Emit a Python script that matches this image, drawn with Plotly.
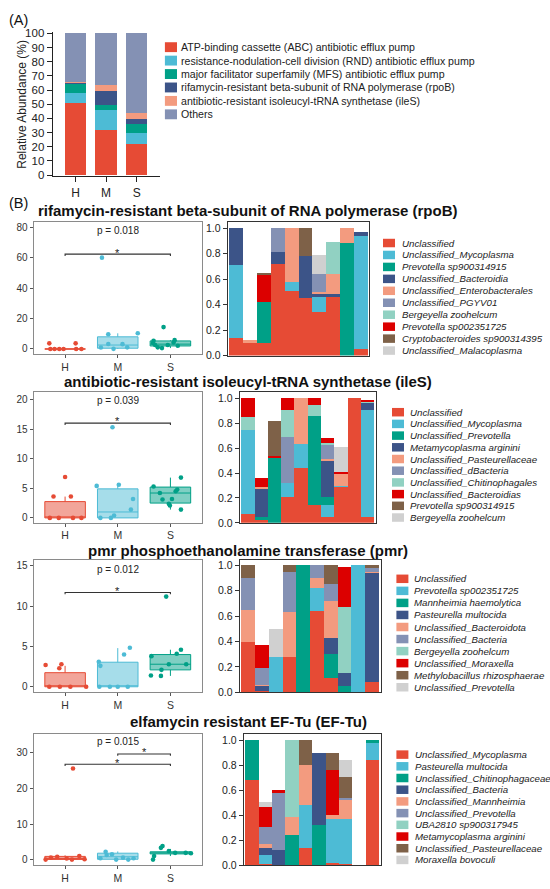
import plotly.graph_objects as go

W, H = 550, 889
FONT = "Liberation Sans, Arial, Helvetica, sans-serif"

# ---------------- data ----------------
groups = ["H", "M", "S"]
group_colors = ["#E64B35", "#4DBBD5", "#00A087"]
group_fills = ["rgba(230,75,53,0.5)", "rgba(77,187,213,0.5)", "rgba(0,160,135,0.5)"]
npg = ["#E64B35", "#4DBBD5", "#00A087", "#3C5488", "#F39B7F",
       "#8491B4", "#91D1C2", "#DC0000", "#7E6148", "#D0D0D0"]

# Panel A
arg_types = ["ATP-binding cassette (ABC) antibiotic efflux pump",
             "resistance-nodulation-cell division (RND) antibiotic efflux pump",
             "major facilitator superfamily (MFS) antibiotic efflux pump",
             "rifamycin-resistant beta-subunit of RNA polymerase (rpoB)",
             "antibiotic-resistant isoleucyl-tRNA synthetase (ileS)",
             "Others"]
arg_colors = ["#E64B35", "#4DBBD5", "#00A087", "#3C5488", "#F39B7F", "#8491B4"]
abund_H = [51.0, 6.8, 6.5, 0.7, 0.9, 34.1]
abund_M = [31.8, 14.4, 3.0, 10.2, 4.4, 36.2]
abund_S = [22.0, 7.5, 6.5, 3.9, 4.2, 55.9]
ticks_A = list(range(0, 101, 10))

samples = list(range(10))
bar_ticks = [0.0, 0.2, 0.4, 0.6, 0.8, 1.0]

# ---- rpoB ----
rpoB_title = "rifamycin-resistant beta-subunit of RNA polymerase (rpoB)"
rpoB_species = ["Unclassified", "Unclassified_Mycoplasma", "Prevotella sp900314915",
                "Unclassified_Bacteroidia", "Unclassified_Enterobacterales", "Unclassified_PGYV01",
                "Bergeyella zoohelcum", "Prevotella sp002351725", "Cryptobacteroides sp900314395",
                "Unclassified_Malacoplasma"]
rpoB_comp = [
    [.14, .11, .10, .72, .51, .45, .34, .47, 0, .05],
    [.57, 0, 0, 0, .07, 0, .12, 0, 0, .89],
    [0, 0, .32, 0, 0, 0, 0, 0, .88, 0],
    [.29, 0, 0, .09, 0, .33, .02, .01, 0, .03],
    [0, .01, 0, 0, .42, 0, .02, .16, .12, 0],
    [0, 0, 0, .19, 0, 0, .14, 0, 0, 0],
    [0, 0, 0, 0, 0, 0, 0, .25, 0, 0],
    [0, 0, .22, 0, 0, 0, 0, 0, 0, 0],
    [0, 0, .01, 0, 0, .22, 0, 0, 0, 0],
    [0, 0, 0, 0, 0, 0, .15, 0, 0, 0],
]
rpoB_q1 = [0, 0.5, 2.0]
rpoB_med = [0, 2.6, 3.2]
rpoB_q3 = [0, 8.0, 5.3]
rpoB_lo = [0, 0, 0.6]
rpoB_hi = [0, 10.3, 5.8]
rpoB_pts = [[3.7, 3.7, 0, 0, 0, 0, 0, 0],
            [60, 10.3, 9.7, 3.3, 3.2, 1.1, 1.0, 0.1],
            [14.4, 5.8, 5.4, 4.3, 3.9, 2.6, 2.6, 2.1, 1.1, 0.6]]
rpoB_jit = [[-0.30, 0.20, -0.28, -0.20, -0.11, -0.03, 0.21, 0.31],
            [-0.30, 0.38, -0.18, -0.18, 0.09, 0.18, -0.32, -0.08],
            [-0.13, 0.08, -0.32, 0.06, -0.33, -0.05, -0.29, 0.14, -0.24, -0.16]]
rpoB_sig = [[0, 2, 62.3, 65.3]]
rpoB_p = ["p = 0.018", 77.9]
rpoB_yticks = [0, 20, 40, 60, 80]

# ---- ileS ----
ileS_title = "antibiotic-resistant isoleucyl-tRNA synthetase (ileS)"
ileS_species = ["Unclassified", "Unclassified_Mycoplasma", "Unclassified_Prevotella",
                "Metamycoplasma arginini", "Unclassified_Pasteurellaceae", "Unclassified_dBacteria",
                "Unclassified_Chitinophagales", "Unclassified_Bacteroidias", "Prevotella sp900314915",
                "Bergeyella zoohelcum"]
ileS_comp = [
    [.07, .02, 0, .21, .44, .14, .05, .29, 1.0, .05],
    [.68, 0, 0, .11, .19, 0, .09, .01, 0, .86],
    [0, .03, .53, 0, 0, .72, .07, 0, 0, 0],
    [0, .23, 0, 0, 0, 0, .29, 0, 0, .05],
    [0, .01, 0, 0, .37, 0, .01, .10, 0, 0],
    [0, 0, 0, .37, 0, 0, .12, 0, 0, 0],
    [.10, 0, 0, .22, 0, .09, .01, 0, 0, .02],
    [.15, .07, .01, .09, 0, .05, .04, .01, 0, .01],
    [0, 0, .28, 0, 0, 0, 0, 0, 0, 0],
    [0, 0, 0, 0, 0, 0, 0, .20, 0, 0],
]
ileS_q1 = [0, 0, 2.5]
ileS_med = [0, 1.0, 4.2]
ileS_q3 = [2.75, 4.9, 5.2]
ileS_lo = [0, 0, 1.4]
ileS_hi = [3.6, 5.6, 6.8]
ileS_pts = [[6.9, 3.6, 3.6, 0, 0, 0, 0],
            [15.3, 5.4, 5.6, 3.2, 1.4, 0, 0, 0.4],
            [5.3, 6.8, 4.8, 3.1, 3.2, 2.4, 2.1, 1.4, 4.2, 4.5]]
ileS_jit = [[0.0, -0.22, 0.11, -0.29, -0.12, 0.15, 0.31],
            [-0.10, -0.40, 0.02, 0.29, 0.25, -0.33, -0.13, -0.07],
            [-0.32, 0.20, 0.13, -0.15, 0.03, -0.03, -0.01, 0.20, -0.20, 0.10]]
ileS_sig = [[0, 2, 16.0, 16.9]]
ileS_p = ["p = 0.039", 19.9]
ileS_yticks = [0, 5, 10, 15, 20]

# ---- pmr ----
pmr_title = "pmr phosphoethanolamine transferase (pmr)"
pmr_species = ["Unclassified", "Prevotella sp002351725", "Mannheimia haemolytica",
               "Pasteurella multocida", "Unclassified_Bacteroidota", "Unclassified_Bacteria",
               "Bergeyella zoohelcum", "Unclassified_Moraxella", "Methylobacillus rhizosphaerae",
               "Unclassified_Prevotella"]
pmr_comp = [
    [.40, .01, 0, .28, 0, .64, .11, 0, 0, .08],
    [0, 0, .28, 0, 0, .18, 0, 0, 1.0, 0],
    [0, 0, 0, 0, 1.0, 0, .19, .05, 0, 0],
    [0, .04, 0, 0, 0, 0, .13, .10, 0, .86],
    [.25, .01, 0, .35, 0, .08, .29, 0, 0, .01],
    [.25, .13, 0, .32, 0, .10, .13, 0, 0, .03],
    [0, 0, 0, 0, 0, 0, 0, .52, 0, 0],
    [0, .18, 0, 0, 0, 0, 0, .32, 0, 0],
    [.10, 0, 0, .05, 0, 0, .15, 0, 0, .02],
    [0, 0, .22, 0, 0, 0, 0, 0, 0, 0],
]
pmr_q1 = [0, 0, 2.1]
pmr_med = [0, 0, 2.8]
pmr_q3 = [1.75, 3.05, 4.0]
pmr_lo = [0, 0, 1.35]
pmr_hi = [2.6, 4.8, 4.6]
pmr_pts = [[2.7, 2.3, 2.8, 0, 0, 0, 0],
           [3.1, 2.6, 4.0, 4.85, 0, 0, 0, 0],
           [11.2, 1.4, 1.35, 2.1, 3.8, 2.8, 4.1, 4.6, 2.8]]
pmr_jit = [[-0.37, -0.11, -0.07, -0.30, -0.10, 0.10, 0.40],
           [-0.36, -0.33, 0.12, 0.23, -0.35, -0.15, 0.0, 0.19],
           [-0.08, -0.37, -0.18, -0.17, -0.36, -0.03, 0.12, 0.20, 0.30]]
pmr_sig = [[0, 2, 11.7, 12.3]]
pmr_p = ["p = 0.012", 14.55]
pmr_yticks = [0, 5, 10, 15]

# ---- EF-Tu ----
eftu_title = "elfamycin resistant EF-Tu (EF-Tu)"
eftu_species = ["Unclassified_Mycoplasma", "Pasteurella multocida", "Unclassified_Chitinophagaceae",
                "Unclassified_Bacteria", "Unclassified_Mannheimia", "Unclassified_Prevotella",
                "UBA2810 sp900317945", "Metamycoplasma arginini", "Unclassified_Pasteurellaceae",
                "Moraxella bovoculi"]
eftu_comp = [
    [.68, .01, 0, 0, .14, 0, .02, .01, 0, .84],
    [0, .07, 0, 0, .34, 0, .35, .36, 0, .14],
    [.32, 0, 0, .24, 0, .32, 0, 0, 0, .02],
    [0, .06, .12, 0, 0, .58, 0, 0, 0, 0],
    [0, .03, 0, .15, .32, 0, .03, .16, 0, 0],
    [0, .14, .46, 0, 0, 0, 0, .01, 0, 0],
    [0, 0, 0, .61, 0, 0, 0, 0, 0, 0],
    [0, .16, .02, 0, 0, 0, .36, 0, 0, 0],
    [0, 0, 0, 0, .20, 0, .14, .17, 0, 0],
    [0, .04, 0, 0, 0, 0, 0, .13, 0, 0],
]
eftu_q1 = [0.05, 0.1, 1.6]
eftu_med = [0.3, 0.8, 1.9]
eftu_q3 = [0.9, 1.8, 2.2]
eftu_lo = [0, 0, 1.0]
eftu_hi = [1.2, 2.3, 3.0]
eftu_pts = [[25.6, 0.55, 0.8, 0.3, 1.0, 0.1, 0, 0],
            [2.2, 1.3, 1.5, 0.4, 0, 0.55, 0.4, 0],
            [0, 3.3, 3.8, 2.4, 1.8, 1.9, 1.0, 1.9]]
eftu_jit = [[0.15, -0.27, -0.15, 0.03, 0.27, 0.37, -0.37, 0.13],
            [-0.23, -0.21, -0.11, -0.33, -0.03, 0.10, 0.30, 0.20],
            [-0.33, -0.18, -0.15, -0.03, 0.39, 0.29, -0.31, 0.09]]
eftu_sig = [[0, 2, 26.8, 28.0], [1, 2, 29.7, 31.1]]
eftu_p = ["p = 0.015", 33.1]
eftu_yticks = [0, 10, 20, 30]

rows = [
    dict(title=rpoB_title, species=rpoB_species, comp=rpoB_comp, q1=rpoB_q1, med=rpoB_med,
         q3=rpoB_q3, lo=rpoB_lo, hi=rpoB_hi, pts=rpoB_pts, jit=rpoB_jit, sig=rpoB_sig,
         p=rpoB_p, yticks=rpoB_yticks),
    dict(title=ileS_title, species=ileS_species, comp=ileS_comp, q1=ileS_q1, med=ileS_med,
         q3=ileS_q3, lo=ileS_lo, hi=ileS_hi, pts=ileS_pts, jit=ileS_jit, sig=ileS_sig,
         p=ileS_p, yticks=ileS_yticks),
    dict(title=pmr_title, species=pmr_species, comp=pmr_comp, q1=pmr_q1, med=pmr_med,
         q3=pmr_q3, lo=pmr_lo, hi=pmr_hi, pts=pmr_pts, jit=pmr_jit, sig=pmr_sig,
         p=pmr_p, yticks=pmr_yticks),
    dict(title=eftu_title, species=eftu_species, comp=eftu_comp, q1=eftu_q1, med=eftu_med,
         q3=eftu_q3, lo=eftu_lo, hi=eftu_hi, pts=eftu_pts, jit=eftu_jit, sig=eftu_sig,
         p=eftu_p, yticks=eftu_yticks),
]

# ---------------- layout geometry (pixels) ----------------
row_geo = [
    dict(title_y=208.3, box=(33.5, 202, 219.3, 353.3), box_range=[-3.24, 83.7],
         bar=(227.7, 369.3, 219.3, 355), bar_range=[0, 1.052], leg=(383, 399.5, 241, 12.1)),
    dict(title_y=381.7, box=(33.5, 202, 391.7, 524), box_range=[-0.78, 21.28],
         bar=(239.6, 376, 391.7, 524.3), bar_range=[0, 1.053], leg=(392, 407.6, 412.3, 11.85)),
    dict(title_y=552, box=(33.5, 202, 562.3, 695.7), box_range=[-0.66, 15.7],
         bar=(239.6, 380.6, 562.3, 696), bar_range=[0, 1.039], leg=(396.4, 412.1, 581, 12.2)),
    dict(title_y=725.7, box=(33.5, 202, 737.7, 871), box_range=[-1.58, 35.44],
         bar=(243.8, 380.6, 737.7, 871), bar_range=[0, 1.055], leg=(396.4, 412.8, 759, 11.85)),
]


def pxx(p):
    return p / W


def pxy(p):
    return 1 - p / H


fig = go.Figure()
layout = dict(width=W, height=H, margin=dict(l=0, r=0, t=0, b=0), autosize=False,
              paper_bgcolor="white", plot_bgcolor="white", showlegend=False,
              barmode="stack", font=dict(family=FONT, color="#222"))
shapes = []
annotations = []

# ---------------- Panel A ----------------
for i, name in enumerate(arg_types):
    fig.add_trace(go.Bar(x=[0, 1, 2], y=[abund_H[i], abund_M[i], abund_S[i]], width=0.7,
                         marker=dict(color=arg_colors[i], line=dict(width=0)),
                         name=name, xaxis="x", yaxis="y"))
layout["xaxis"] = dict(domain=[pxx(52.6), pxx(159.6)], range=[-0.75, 2.75], anchor="y",
                       tickvals=[0, 1, 2], ticktext=groups, showline=True, linecolor="#222",
                       linewidth=1, ticks="outside", ticklen=5, tickcolor="#222",
                       tickfont=dict(size=12, color="#222"), showgrid=False, zeroline=False)
layout["yaxis"] = dict(domain=[pxy(173.45), pxy(27.55)], range=[-0.8, 100.8], anchor="x",
                       tickvals=ticks_A, showline=True, linecolor="#222", linewidth=1,
                       ticks="outside", ticklen=5, tickcolor="#222",
                       tickfont=dict(size=11.5, color="#222"), showgrid=False, zeroline=False)
annotations.append(dict(text="(A)", x=pxx(6.5), y=pxy(15.5), xref="paper", yref="paper",
                        xanchor="left", yanchor="middle", showarrow=False,
                        font=dict(size=14.5, color="#111")))
annotations.append(dict(text="Relative Abundance (%)", x=pxx(22.5), y=pxy(100.5), xref="paper",
                        yref="paper", textangle=-90, xanchor="center", yanchor="middle",
                        showarrow=False, font=dict(size=12, color="#222")))
for i, name in enumerate(arg_types):
    yc = 42.7 + 13.6 * i
    shapes.append(dict(type="rect", xref="paper", yref="paper", x0=pxx(164.9), x1=pxx(177),
                       y0=pxy(yc + 5), y1=pxy(yc - 5), fillcolor=arg_colors[i], line=dict(width=0)))
    annotations.append(dict(text=name, x=pxx(179), y=pxy(yc), xref="paper", yref="paper",
                            xanchor="left", yanchor="middle", showarrow=False,
                            font=dict(size=10.6, color="#222")))

annotations.append(dict(text="(B)", x=pxx(6.5), y=pxy(200), xref="paper", yref="paper",
                        xanchor="left", yanchor="middle", showarrow=False,
                        font=dict(size=14.5, color="#111")))

# ---------------- Panel B rows ----------------
for r, (row, geo) in enumerate(zip(rows, row_geo)):
    bi = 2 + 2 * r
    ci = 3 + 2 * r
    bx, by = f"x{bi}", f"y{bi}"
    cx, cy = f"x{ci}", f"y{ci}"

    annotations.append(dict(text="<b>" + row["title"] + "</b>", x=pxx(248), y=pxy(geo["title_y"]),
                            xref="paper", yref="paper", xanchor="center", yanchor="middle",
                            showarrow=False, font=dict(size=15, color="#111")))

    # box plot panel
    l, rr, t, b = geo["box"]
    layout[f"xaxis{bi}"] = dict(domain=[pxx(l), pxx(rr)], range=[-0.6, 2.6], anchor=by,
                                tickvals=[0, 1, 2], ticktext=groups, showline=True, mirror=True,
                                linecolor="#8a8a8a", linewidth=1, ticks="outside", ticklen=3,
                                tickcolor="#555", tickfont=dict(size=10.5, color="#333"),
                                showgrid=False, zeroline=False)
    layout[f"yaxis{bi}"] = dict(domain=[pxy(b), pxy(t)], range=geo["box_range"], anchor=bx,
                                tickvals=row["yticks"], showline=True, mirror=True,
                                linecolor="#8a8a8a", linewidth=1, ticks="outside", ticklen=3,
                                tickcolor="#555", tickfont=dict(size=10, color="#333"),
                                showgrid=False, zeroline=False)
    for g in range(3):
        fig.add_trace(go.Box(x=[g], q1=[row["q1"][g]], median=[row["med"][g]], q3=[row["q3"][g]],
                             lowerfence=[row["lo"][g]], upperfence=[row["hi"][g]], width=0.77,
                             whiskerwidth=0, fillcolor=group_fills[g],
                             line=dict(color=group_colors[g], width=1), boxpoints=False,
                             xaxis=bx, yaxis=by, name=groups[g]))
        fig.add_trace(go.Scatter(x=[g + o for o in row["jit"][g]], y=row["pts"][g], mode="markers",
                                 marker=dict(color=group_colors[g], size=4.6, line=dict(width=0)),
                                 xaxis=bx, yaxis=by, name=groups[g]))
    ppu = (b - t) / (geo["box_range"][1] - geo["box_range"][0])
    dtick = 1.8 / ppu
    for (g0, g1, ysig, ystar) in row["sig"]:
        fig.add_trace(go.Scatter(x=[g0, g0, g1, g1], y=[ysig - dtick, ysig, ysig, ysig - dtick],
                                 mode="lines", line=dict(color="#333", width=1.1),
                                 xaxis=bx, yaxis=by, name="sig"))
        annotations.append(dict(text="*", x=(g0 + g1) / 2, y=ystar, xref=bx, yref=by,
                                xanchor="center", yanchor="middle", yshift=-3, showarrow=False,
                                font=dict(size=11, color="#222")))
    annotations.append(dict(text=row["p"][0], x=1, y=row["p"][1], xref=bx, yref=by,
                            xanchor="center", yanchor="middle", showarrow=False,
                            font=dict(size=10, color="#222")))

    # composition bar panel
    l, rr, t, b = geo["bar"]
    layout[f"xaxis{ci}"] = dict(domain=[pxx(l), pxx(rr)], range=[-0.62, 9.62], anchor=cy,
                                showticklabels=False, ticks="", showline=True, mirror=True,
                                linecolor="#333", linewidth=1, showgrid=False, zeroline=False)
    layout[f"yaxis{ci}"] = dict(domain=[pxy(b), pxy(t)], range=geo["bar_range"], anchor=cx,
                                tickvals=bar_ticks, tickformat=".1f", showline=True, mirror=True,
                                linecolor="#333", linewidth=1, ticks="outside", ticklen=4,
                                tickcolor="#333", tickfont=dict(size=10.5, color="#222"),
                                showgrid=False, zeroline=False)
    for k, sp in enumerate(row["species"]):
        fig.add_trace(go.Bar(x=samples, y=row["comp"][k], width=1.0,
                             marker=dict(color=npg[k], line=dict(width=0)),
                             name=sp, xaxis=cx, yaxis=cy))
    bx0, tx0, y0, step = geo["leg"]
    for k, sp in enumerate(row["species"]):
        yc = y0 + step * k
        shapes.append(dict(type="rect", xref="paper", yref="paper", x0=pxx(bx0), x1=pxx(bx0 + 12),
                           y0=pxy(yc + 4.3), y1=pxy(yc - 4.3), fillcolor=npg[k], line=dict(width=0)))
        annotations.append(dict(text="<i>" + sp + "</i>", x=pxx(tx0), y=pxy(yc), xref="paper",
                                yref="paper", xanchor="left", yanchor="middle", showarrow=False,
                                font=dict(size=9.7, color="#222")))

layout["shapes"] = shapes
layout["annotations"] = annotations
fig.update_layout(**layout)

fig.write_html("out.html", config={"displayModeBar": False},
               post_script="document.body.style.margin='0px';")
